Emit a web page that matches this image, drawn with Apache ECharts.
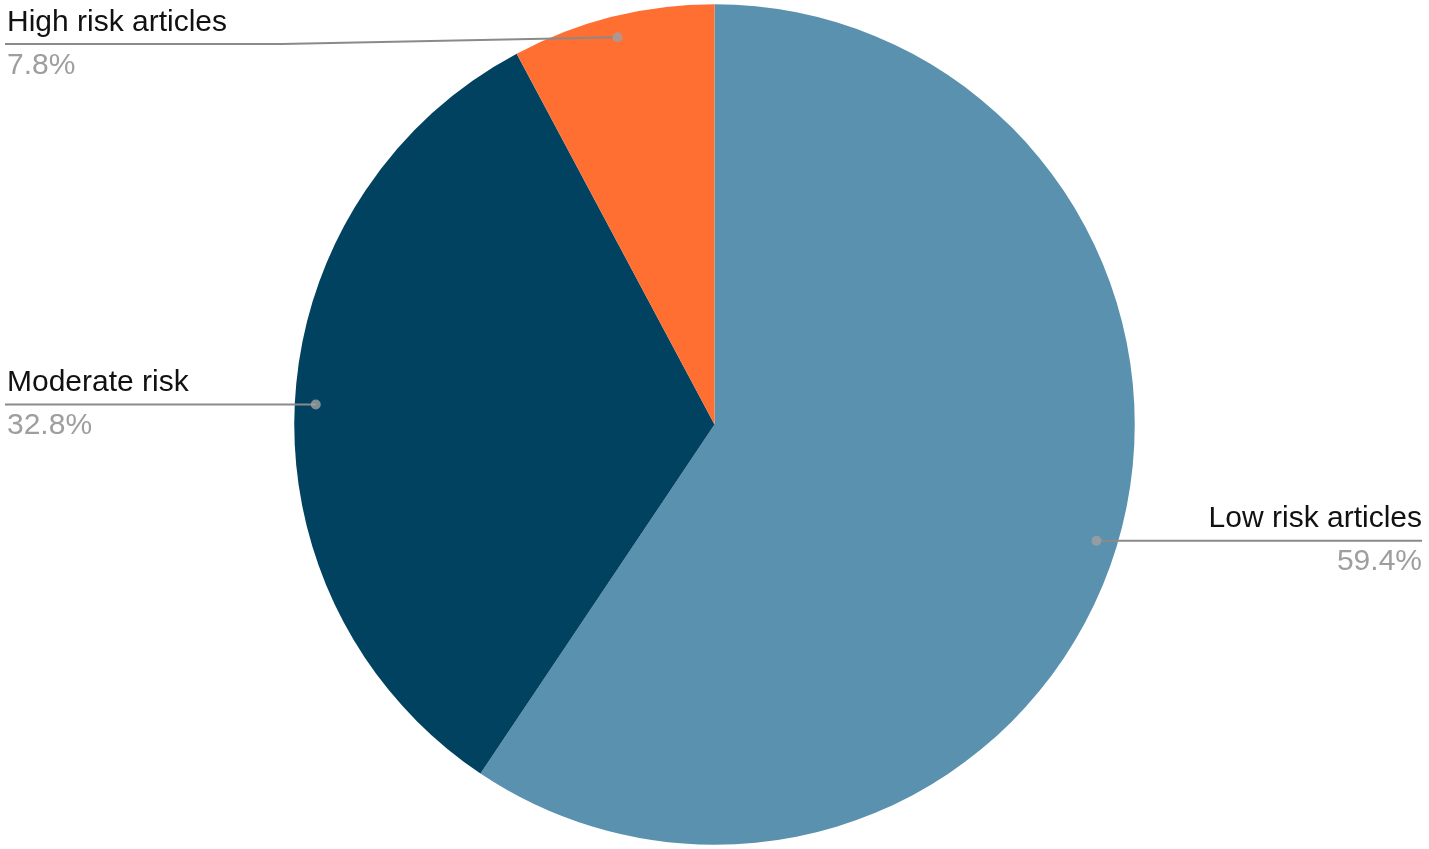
<!DOCTYPE html>
<html>
<head>
<meta charset="utf-8">
<script src="https://cdn.jsdelivr.net/npm/echarts@6/dist/echarts.min.js"></script>
<style>
html,body{margin:0;padding:0;background:#fff;}
#main{width:1429px;height:849px;}
</style>
</head>
<body>
<div id="main"></div>
<script>
const categories = ['Low risk articles', 'Moderate risk', 'High risk articles'];
const values = [59.4, 32.8, 7.8];
const colors = ['#5A91AE', '#00425F', '#FF6F31'];

const total = values.reduce((a, b) => a + b, 0);
const mids = values.map((v, i) => values.slice(0, i).reduce((a, b) => a + b, 0) + v / 2);

const chart = echarts.init(document.getElementById('main'));
const DOT_R = 0.95;
const LINE_MIN_Y = 44;

function layoutLabel(p) {
  const w = chart.getWidth(), h = chart.getHeight();
  const cx = w / 2, cy = h / 2;
  const R = Math.min(w, h) / 2 * 0.99;
  const th = 2 * Math.PI * mids[p.dataIndex] / total;
  const dx = Math.sin(th), dy = -Math.cos(th);
  const dot = [cx + dx * R * DOT_R, cy + dy * R * DOT_R];
  const right = dx > 0;
  let ly = Math.min(Math.max(dot[1], LINE_MIN_Y), h - LINE_MIN_Y);
  const edgeX = right ? w - 7 : 5;
  const bendX = right ? Math.max(dot[0], cx + R * 1.03) : Math.min(dot[0], cx - R * 1.03);
  return {
    x: right ? w - 7 : 7,
    y: ly,
    align: right ? 'right' : 'left',
    verticalAlign: 'middle',
    labelLinePoints: [dot, [bendX, ly], [edgeX, ly]]
  };
}

const pieData = categories.map((c, i) => ({ name: c, value: values[i], itemStyle: { color: colors[i] } }));
const font = 'Liberation Sans, Arial, sans-serif';

chart.setOption({
  backgroundColor: '#ffffff',
  animation: false,
  polar: { center: ['50%', '50%'], radius: '99%' },
  angleAxis: { type: 'value', min: 0, max: total, startAngle: 90, clockwise: true, show: false },
  radiusAxis: { type: 'value', min: 0, max: 1, show: false },
  series: [
    {
      type: 'pie',
      z: 1,
      center: ['50%', '50%'],
      radius: '99%',
      startAngle: 90,
      clockwise: true,
      data: pieData,
      label: { show: false },
      labelLine: { show: false },
      emphasis: { disabled: true },
      silent: true
    },
    {
      type: 'pie',
      z: 3,
      center: ['50%', '50%'],
      radius: '99%',
      startAngle: 90,
      clockwise: true,
      data: categories.map((c, i) => ({ name: c, value: values[i] })),
      itemStyle: { color: 'rgba(0,0,0,0)' },
      label: {
        show: true,
        position: 'outside',
        formatter: (p) => '{n|' + p.name + '}\n{v|' + values[p.dataIndex].toFixed(1) + '%}',
        rich: {
          n: { fontFamily: font, fontSize: 30, color: '#111111', lineHeight: 43 },
          v: { fontFamily: font, fontSize: 30, color: '#9E9E9E', lineHeight: 43 }
        }
      },
      labelLine: { show: true, length: 10, length2: 10, lineStyle: { color: '#8A8A8A', width: 2 } },
      labelLayout: layoutLabel,
      emphasis: { disabled: true },
      silent: true
    },
    {
      type: 'scatter',
      coordinateSystem: 'polar',
      data: mids.map(m => [DOT_R, m]),
      symbol: 'circle',
      symbolSize: 10,
      itemStyle: { color: '#A0A0A0' },
      z: 10,
      silent: true
    }
  ]
});
</script>
</body>
</html>
